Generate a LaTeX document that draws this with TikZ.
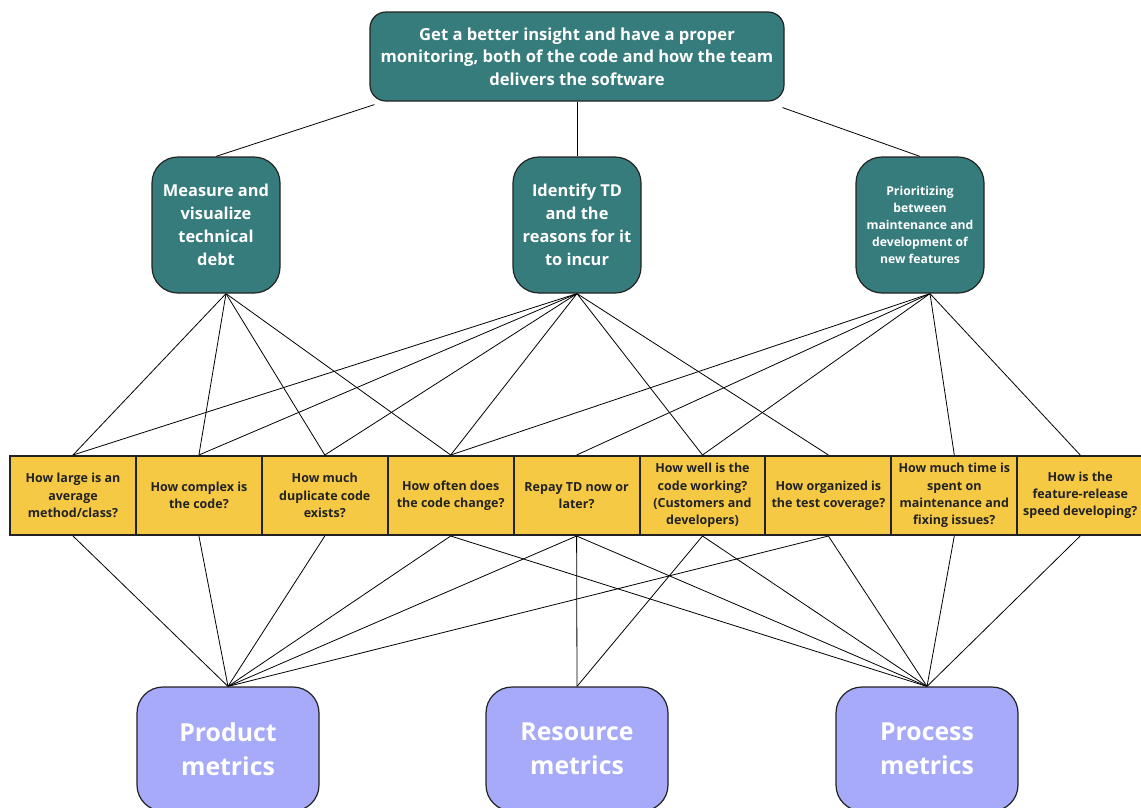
\documentclass[tikz,border=0pt]{standalone}
\usepackage{fontspec}
\setmainfont{Open Sans}[BoldFont={Open Sans Bold}]
\usetikzlibrary{backgrounds}
\definecolor{goalteal}{HTML}{377C7C}
\definecolor{qyellow}{HTML}{F6C945}
\definecolor{metricblue}{HTML}{A6AAF8}
\definecolor{edgegray}{HTML}{222222}
\begin{document}
\begin{tikzpicture}[x=1pt,y=-1pt,
  goalbox/.style={draw=edgegray, fill=goalteal, line width=1.2pt, text=white,
    rounded corners=16pt, align=center, inner sep=0pt,
    minimum width=414pt, minimum height=89pt,
    font=\bfseries\fontsize{16.6}{22.5}\selectfont},
  aimbox/.style={draw=edgegray, fill=goalteal, line width=1.2pt, text=white,
    rounded corners=26pt, align=center, inner sep=0pt,
    minimum width=128pt, minimum height=136pt,
    font=\bfseries\fontsize{16.4}{23}\selectfont},
  smallaim/.style={font=\bfseries\fontsize{12.2}{17}\selectfont},
  questionbox/.style={draw=edgegray, fill=qyellow, line width=2pt, text=edgegray,
    align=center, inner sep=0pt,
    minimum width=125.9pt, minimum height=79pt,
    font=\bfseries\fontsize{12.5}{17.2}\selectfont},
  metricbox/.style={draw=edgegray, fill=metricblue, line width=1.2pt, text=white,
    rounded corners=26pt, align=center, inner sep=0pt,
    minimum width=182pt, minimum height=124pt,
    font=\bfseries\fontsize{24.8}{34}\selectfont},
  link/.style={draw=black, line width=0.8pt}]

\useasboundingbox (0,0) rectangle (1141,807);
\begin{scope}[on background layer]
  \fill[white] (0,0) rectangle (1141,807);
\end{scope}
\clip (0,0) rectangle (1141,807);

% overall goal
\node[goalbox] (goal) at (577,56.5)
  {Get a better insight and have a proper\\monitoring, both of the code and how the team\\delivers the software};

% sub-goals
\node[aimbox] (measure) at (216,225) {Measure and\\visualize\\technical\\debt};
\node[aimbox] (identify) at (577,225) {Identify TD\\and the\\reasons for it\\to incur};
\node[aimbox,smallaim] (prior) at (920,225) {Prioritizing\\between\\maintenance and\\development of\\new features};

% questions
\node[questionbox] (q1) at (73,495.5) {How large is an\\average\\method/class?};
\node[questionbox] (q2) at (198.9,495.5) {How complex is\\the code?};
\node[questionbox] (q3) at (324.8,495.5) {How much\\duplicate code\\exists?};
\node[questionbox] (q4) at (450.7,495.5) {How often does\\the code change?};
\node[questionbox] (q5) at (576.6,495.5) {Repay TD now or\\later?};
\node[questionbox] (q6) at (702.5,495.5) {How well is the\\code working?\\(Customers and\\developers)};
\node[questionbox] (q7) at (828.4,495.5) {How organized is\\the test coverage?};
\node[questionbox] (q8) at (954.3,495.5) {How much time is\\spent on\\maintenance and\\fixing issues?};
\node[questionbox] (q9) at (1080.2,495.5) {How is the\\feature-release\\speed developing?};

% metrics
\node[metricbox] (product) at (228,749) {Product\\metrics};
\node[metricbox] (resource) at (577,749) {Resource\\metrics};
\node[metricbox] (process) at (927,749) {Process\\metrics};

\begin{scope}[on background layer]
  % goal to sub-goals
  \draw[link] ([xshift=5pt,yshift=-3pt]goal.south west) -- (measure.north);
  \draw[link] (goal.south) -- (identify.north);
  \draw[link] ([xshift=-2pt,yshift=-6pt]goal.south east) -- (prior.north);

  % sub-goals to questions
  \coordinate (mfoot) at ([xshift=10pt]measure.south);
  \coordinate (ifoot) at (identify.south);
  \coordinate (pfoot) at ([xshift=10pt]prior.south);
  \foreach \q in {q1,q2,q3,q4} \draw[link] (mfoot) -- (\q.north);
  \foreach \q in {q1,q2,q3,q4,q6,q7} \draw[link] (ifoot) -- (\q.north);
  \foreach \q in {q4,q5,q6,q8,q9} \draw[link] (pfoot) -- (\q.north);

  % questions to metrics
  \foreach \q in {q1,q2,q3,q4,q5,q7} \draw[link] (\q.south) -- (product.north);
  \foreach \q in {q5,q6} \draw[link] (\q.south) -- (resource.north);
  \foreach \q in {q4,q5,q6,q7,q8,q9} \draw[link] (\q.south) -- (process.north);
\end{scope}
\end{tikzpicture}
\end{document}
